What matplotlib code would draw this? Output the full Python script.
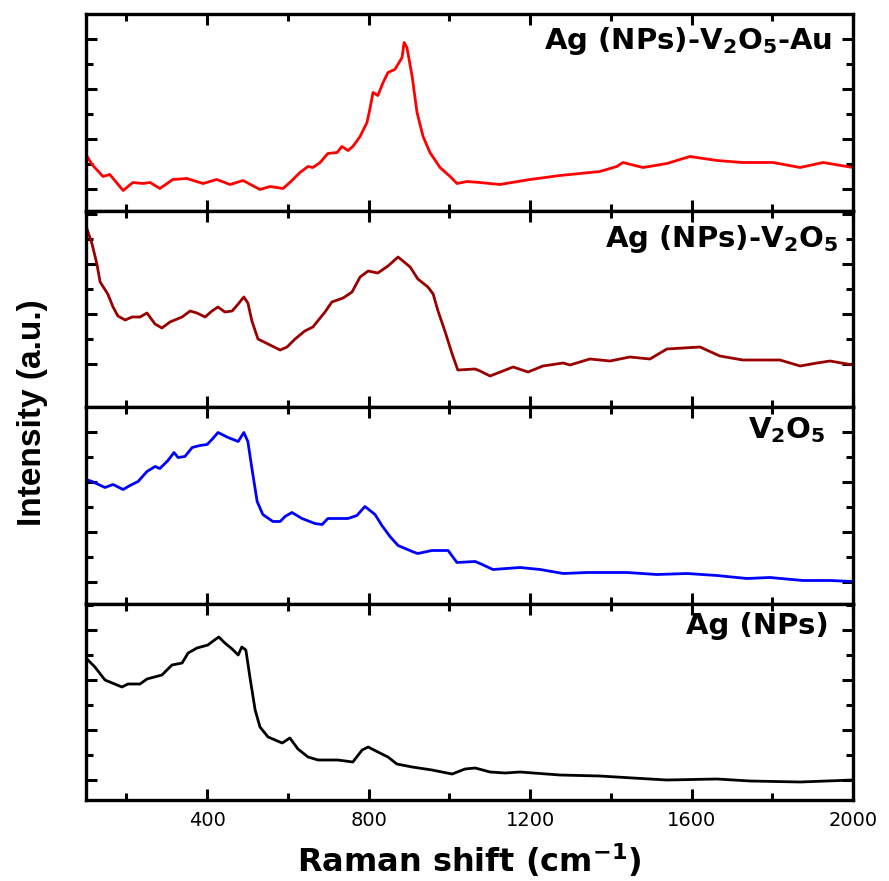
import numpy as np
import matplotlib.pyplot as plt
from matplotlib.ticker import FixedLocator, MultipleLocator

plt.rcParams['font.family'] = ['DejaVu Sans']
plt.rcParams['mathtext.fontset'] = 'dejavusans'

# Raman shift (cm-1) / intensity (a.u.)
au_x = [100, 115, 142, 159, 192, 216, 241, 259, 283, 315, 350, 390, 424, 457, 489, 531, 556, 588,
        605, 630, 650, 662, 680, 699, 722, 734, 749, 761, 779, 796, 803, 811, 823, 836, 848, 865,
        883, 888, 895, 908, 920, 935, 952, 977, 1002, 1019, 1044, 1076, 1125, 1200, 1274, 1324,
        1373, 1415, 1430, 1480, 1539, 1596, 1663, 1727, 1802, 1869, 1926, 2000]
au_y = [56, 46, 34, 36, 20, 28, 27, 28, 22, 31, 32, 27, 31, 26, 30, 21, 24, 22,
        28, 38, 44, 43, 48, 57, 58, 64, 60, 64, 74, 88, 101, 118, 115, 128, 138, 141,
        153, 168, 163, 134, 98, 74, 58, 43, 34, 27, 29, 28, 26, 31, 35, 37,
        39, 44, 48, 43, 47, 54, 50, 48, 48, 43, 48, 43]

agv_x = [100, 115, 127, 135, 154, 167, 179, 197, 214, 234, 251, 271, 288, 308, 338, 358, 375, 395,
         412, 427, 444, 462, 477, 491, 501, 511, 526, 551, 581, 598, 618, 642, 662, 692, 709, 737,
         759, 779, 799, 823, 848, 873, 903, 922, 947, 960, 972, 989, 1007, 1021, 1064, 1076, 1101,
         1158, 1195, 1232, 1282, 1299, 1348, 1398, 1447, 1497, 1539, 1621, 1670, 1727, 1819, 1869,
         1911, 1943, 2000]
agv_y = [181, 163, 143, 125, 113, 100, 91, 87, 90, 90, 94, 83, 79, 85, 90, 96, 94, 90,
         96, 100, 95, 96, 103, 110, 104, 86, 68, 63, 57, 60, 68, 76, 80, 95, 105, 109,
         115, 130, 136, 134, 141, 150, 140, 128, 120, 113, 96, 76, 53, 37, 38, 36, 31,
         40, 35, 41, 44, 42, 48, 46, 50, 48, 58, 60, 51, 47, 47, 41,
         44, 46, 42]

v2o5_x = [100, 115, 147, 167, 192, 209, 229, 251, 271, 283, 303, 318, 328, 345, 363, 382, 400, 412,
          427, 452, 477, 491, 501, 511, 524, 538, 563, 581, 593, 610, 635, 667, 685, 699, 749, 771,
          791, 816, 833, 853, 873, 908, 922, 957, 997, 1019, 1064, 1076, 1108, 1175, 1225, 1282,
          1341, 1440, 1514, 1589, 1663, 1737, 1794, 1876, 1943, 2000]
v2o5_y = [124, 122, 116, 119, 114, 118, 122, 132, 137, 135, 143, 151, 146, 147, 156, 158, 159, 164,
          171, 166, 162, 171, 162, 135, 102, 89, 82, 82, 87, 91, 85, 80, 79, 85, 85, 88,
          97, 89, 78, 67, 58, 52, 50, 53, 53, 41, 42, 40, 34, 36, 34, 30,
          31, 31, 29, 30, 28, 25, 26, 23, 23, 22]

ag_x = [100, 122, 147, 189, 204, 234, 251, 288, 313, 338, 353, 375, 402, 415, 429, 444, 462, 477,
        486, 496, 506, 519, 531, 551, 586, 605, 625, 650, 675, 724, 761, 784, 799, 823, 848, 870,
        908, 957, 1007, 1039, 1064, 1101, 1138, 1175, 1274, 1373, 1455, 1539, 1663, 1745, 1869, 2000]
ag_y = [142, 133, 120, 113, 116, 116, 121, 125, 135, 137, 147, 152, 155, 159, 163, 157, 151, 145,
        153, 150, 123, 90, 73, 63, 57, 62, 51, 43, 40, 40, 38, 50, 53, 48, 43, 36,
        33, 30, 26, 31, 32, 28, 27, 28, 25, 24, 22, 20, 21, 19, 18, 20]

series = [(au_x, au_y), (agv_x, agv_y), (v2o5_x, v2o5_y), (ag_x, ag_y)]
labels = [r'Ag (NPs)-V$_\mathbf{2}$O$_\mathbf{5}$-Au', r'Ag (NPs)-V$_\mathbf{2}$O$_\mathbf{5}$',
          r'V$_\mathbf{2}$O$_\mathbf{5}$', 'Ag (NPs)']
colors = ['#ff0000', '#990000', '#0000ff', '#000000']
tick_offset = [22, 43, 22, 20]       # first major y tick in each panel
label_pos = [(0.973, 0.945), (0.980, 0.935), (0.964, 0.96), (0.968, 0.955)]

fig, axes = plt.subplots(4, 1, figsize=(8.89, 8.81), dpi=100, sharex=True)
fig.subplots_adjust(left=86/889, right=853/889, top=1-14/881, bottom=1-800/881, hspace=0)

for i, ax in enumerate(axes):
    x, y = series[i]
    ax.plot(x, y, color=colors[i], lw=2.0)
    ax.set_xlim(100, 2000)
    ax.set_ylim(0, 196.5)
    off = tick_offset[i]
    ax.yaxis.set_major_locator(FixedLocator(np.arange(off, 196, 50)))
    ax.yaxis.set_minor_locator(FixedLocator(np.arange(off + 25, 196, 50)))
    ax.xaxis.set_major_locator(MultipleLocator(400))
    ax.xaxis.set_minor_locator(MultipleLocator(200))
    ax.tick_params(which='both', direction='in', top=True, right=True, width=2.2)
    ax.tick_params(which='major', length=8)
    ax.tick_params(which='minor', length=5)
    ax.tick_params(axis='y', labelleft=False)
    for s in ax.spines.values():
        s.set_linewidth(2.4)
    ax.text(label_pos[i][0], label_pos[i][1], labels[i], transform=ax.transAxes,
            ha='right', va='top', fontsize=21, fontweight='bold')

axes[-1].tick_params(axis='x', labelsize=14, pad=8)
axes[-1].set_xticks([400, 800, 1200, 1600, 2000])
axes[-1].set_xlabel(r'Raman shift (cm$^{\mathbf{-1}}$)', fontsize=23, fontweight='bold', labelpad=8)

fig.text(0.036, 0.532, 'Intensity (a.u.)', rotation=90, ha='center', va='center',
         fontsize=24, fontweight='bold', family=['Liberation Sans Narrow', 'Liberation Sans'])

fig.savefig('out.png', dpi=100)
